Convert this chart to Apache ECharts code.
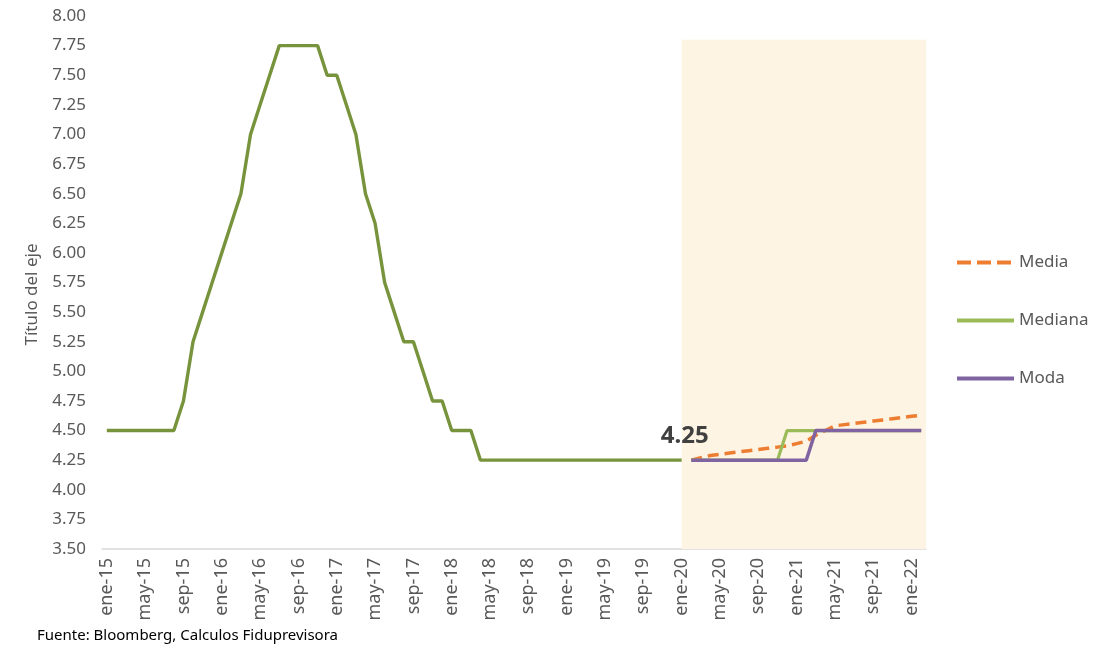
<!DOCTYPE html>
<html>
<head>
<meta charset="utf-8">
<title>Tasa de intervención - proyección</title>
<script src="https://cdn.jsdelivr.net/npm/echarts@6.0.0/dist/echarts.min.js"></script>
<style>
  html, body { margin: 0; padding: 0; background: #fff; }
  #main { width: 1112px; height: 648px; }
</style>
</head>
<body>
<div id="main"></div>
<script>
// meses en español, eje mensual ene-15 .. feb-22
const monthNames = ['ene', 'feb', 'mar', 'abr', 'may', 'jun', 'jul', 'ago', 'sep', 'oct', 'nov', 'dic'];
const years = ['15', '16', '17', '18', '19', '20', '21', '22'];
const categories = [];
years.forEach(y => monthNames.forEach(m => categories.push(m + '-' + y)));
categories.splice(categories.indexOf('feb-22') + 1);

// tasa histórica, ene-15 .. ene-20
const historico = [
  4.50, 4.50, 4.50, 4.50, 4.50, 4.50, 4.50, 4.50, 4.75, 5.25, 5.50, 5.75,
  6.00, 6.25, 6.50, 7.00, 7.25, 7.50, 7.75, 7.75, 7.75, 7.75, 7.75, 7.50,
  7.50, 7.25, 7.00, 6.50, 6.25, 5.75, 5.50, 5.25, 5.25, 5.00, 4.75, 4.75,
  4.50, 4.50, 4.50, 4.25, 4.25, 4.25, 4.25, 4.25, 4.25, 4.25, 4.25, 4.25,
  4.25, 4.25, 4.25, 4.25, 4.25, 4.25, 4.25, 4.25, 4.25, 4.25, 4.25, 4.25,
  4.25
];

// proyecciones, feb-20 .. feb-22
const media = [
  4.25, 4.27, 4.29, 4.30, 4.31, 4.32, 4.33, 4.34, 4.35, 4.36, 4.37,
  4.39, 4.41, 4.46, 4.50, 4.54, 4.55, 4.56, 4.57, 4.58, 4.59, 4.60, 4.61,
  4.62, 4.63
];
const mediana = [
  4.25, 4.25, 4.25, 4.25, 4.25, 4.25, 4.25, 4.25, 4.25, 4.25, 4.50,
  4.50, 4.50, 4.50, 4.50, 4.50, 4.50, 4.50, 4.50, 4.50, 4.50, 4.50, 4.50,
  4.50, 4.50
];
const moda = [
  4.25, 4.25, 4.25, 4.25, 4.25, 4.25, 4.25, 4.25, 4.25, 4.25, 4.25,
  4.25, 4.25, 4.50, 4.50, 4.50, 4.50, 4.50, 4.50, 4.50, 4.50, 4.50, 4.50,
  4.50, 4.50
];

const yTicks = { min: 3.5, max: 8, interval: 0.25 };
const inicioProyeccion = 'ene-20';
const topeSombra = 7.8;

const labelColor = '#595959';
const fontFamily = 'Noto Sans, Open Sans, sans-serif';

// rellena con null antes de la proyección
const pad = arr => new Array(historico.length).fill(null).concat(arr);
const ultimo = categories[historico.length - 1];

const chart = echarts.init(document.getElementById('main'), null, { renderer: 'canvas' });
chart.setOption({
  animation: false,
  backgroundColor: '#fff',
  textStyle: { fontFamily: fontFamily },
  grid: {
    left: 102,
    right: 186,
    top: 16,
    bottom: 99,
    outerBoundsMode: 'none'
  },
  legend: {
    data: [
      { name: 'Media', lineStyle: { type: [14, 6] } },
      { name: 'Mediana' },
      { name: 'Moda' }
    ],
    orient: 'vertical',
    left: 955,
    top: 254,
    padding: 0,
    itemWidth: 57,
    itemHeight: 14,
    itemGap: 41,
    itemStyle: { opacity: 0 },
    lineStyle: { width: 4 },
    textStyle: { color: labelColor, fontSize: 17, fontFamily: fontFamily }
  },
  xAxis: {
    type: 'category',
    data: categories,
    boundaryGap: true,
    axisLine: { show: true, lineStyle: { color: '#d9d9d9', width: 1.5 } },
    axisTick: { show: false },
    axisLabel: {
      interval: 3,
      rotate: 90,
      margin: 9,
      color: labelColor,
      fontSize: 18,
      fontFamily: fontFamily
    },
    splitLine: { show: false }
  },
  yAxis: {
    type: 'value',
    min: yTicks.min,
    max: yTicks.max,
    interval: yTicks.interval,
    name: 'Título del eje',
    nameLocation: 'middle',
    nameGap: 61,
    nameTextStyle: { color: labelColor, fontSize: 17, fontFamily: fontFamily, padding: [0, 24, 0, 0] },
    axisLine: { show: false },
    axisTick: { show: false },
    splitLine: { show: false },
    axisLabel: {
      margin: 16,
      color: labelColor,
      fontSize: 17,
      fontFamily: fontFamily,
      formatter: v => v.toFixed(2)
    }
  },
  series: [
    {
      name: 'Histórico',
      type: 'line',
      data: historico,
      symbol: 'none',
      lineStyle: { color: '#77933C', width: 3.4 },
      itemStyle: { color: '#77933C' },
      z: 2,
      markArea: {
        silent: true,
        itemStyle: { color: '#FDF4E3' },
        data: [[{ xAxis: inicioProyeccion, yAxis: topeSombra }, { yAxis: yTicks.min }]]
      },
      markPoint: {
        silent: true,
        symbol: 'circle',
        symbolSize: 1,
        itemStyle: { color: 'rgba(0,0,0,0)' },
        label: {
          show: true,
          position: 'top',
          distance: 12,
          offset: [3, 0],
          color: '#404040',
          fontSize: 24,
          fontWeight: 'bold',
          fontFamily: fontFamily,
          formatter: p => Number(p.value).toFixed(2)
        },
        data: [{ coord: [ultimo, historico[historico.length - 1]], value: historico[historico.length - 1] }]
      }
    },
    {
      name: 'Media',
      type: 'line',
      data: pad(media),
      symbol: 'none',
      lineStyle: { color: '#ED7D31', width: 3.5, type: [11, 6] },
      itemStyle: { color: '#ED7D31' },
      z: 3
    },
    {
      name: 'Mediana',
      type: 'line',
      data: pad(mediana),
      symbol: 'none',
      lineStyle: { color: '#9BBB59', width: 3.2 },
      itemStyle: { color: '#9BBB59' },
      z: 4
    },
    {
      name: 'Moda',
      type: 'line',
      data: pad(moda),
      symbol: 'none',
      lineStyle: { color: '#8064A2', width: 3.5 },
      itemStyle: { color: '#8064A2' },
      z: 5
    }
  ],
  graphic: [
    {
      type: 'group',
      left: 0,
      top: 627,
      z: 100,
      children: [
        { type: 'rect', shape: { x: 0, y: 0, width: 540, height: 21 }, style: { fill: '#fff' } },
        {
          type: 'text',
          x: 37,
          y: 1,
          style: { text: 'Fuente: Bloomberg, Calculos Fiduprevisora', fill: '#000', fontSize: 15, fontFamily: fontFamily }
        }
      ]
    }
  ]
});
</script>
</body>
</html>
